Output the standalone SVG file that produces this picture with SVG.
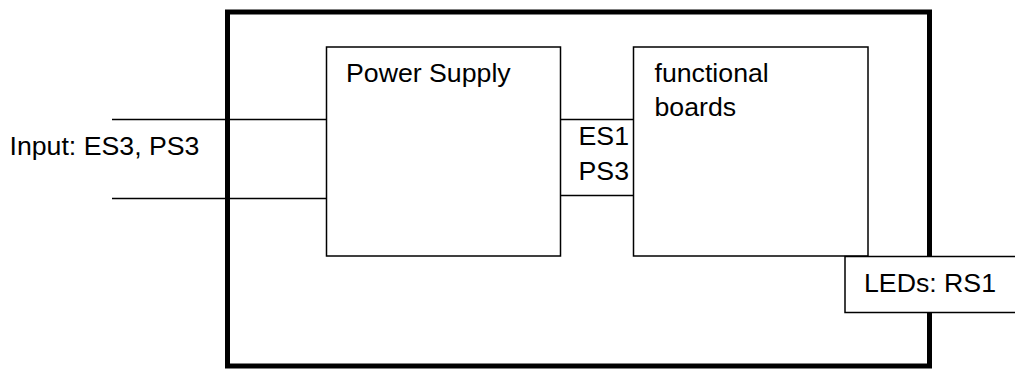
<svg xmlns="http://www.w3.org/2000/svg" width="1015" height="369" viewBox="0 0 1015 369">
<style>
.box{fill:#fff;stroke:#000;stroke-width:1.5}
.ln{fill:none;stroke:#000;stroke-width:1.5}
.frame{fill:none;stroke:#000;stroke-width:5}
text{font-family:"Liberation Sans",Arial,sans-serif;font-size:26.7px;fill:#000}
</style>
<rect width="1015" height="369" fill="#fff"/>
<g id="enclosure">
<rect class="frame" x="227.5" y="12" width="702" height="354"/>
</g>
<g id="connectors">
<line class="ln" x1="112" y1="119.5" x2="326.5" y2="119.5"/>
<line class="ln" x1="112" y1="198.5" x2="326.5" y2="198.5"/>
<line class="ln" x1="560.5" y1="119.5" x2="633.5" y2="119.5"/>
<line class="ln" x1="560.5" y1="195.5" x2="633.5" y2="195.5"/>
</g>
<g id="input-label">
<text x="9.5" y="155">Input: ES3, PS3</text>
</g>
<g id="power-supply">
<rect class="box" x="326.5" y="47" width="234" height="209"/>
<text x="346" y="82">Power Supply</text>
</g>
<g id="interface-label">
<text x="629" y="144.5" text-anchor="end">ES1</text>
<text x="629" y="179.5" text-anchor="end">PS3</text>
</g>
<g id="functional-boards">
<rect class="box" x="633.5" y="47" width="234.5" height="209"/>
<text x="654.5" y="82">functional</text>
<text x="654.5" y="116">boards</text>
</g>
<g id="leds">
<rect class="box" x="845" y="256.5" width="175" height="56"/>
<text x="864" y="292">LEDs: RS1</text>
</g>
</svg>
